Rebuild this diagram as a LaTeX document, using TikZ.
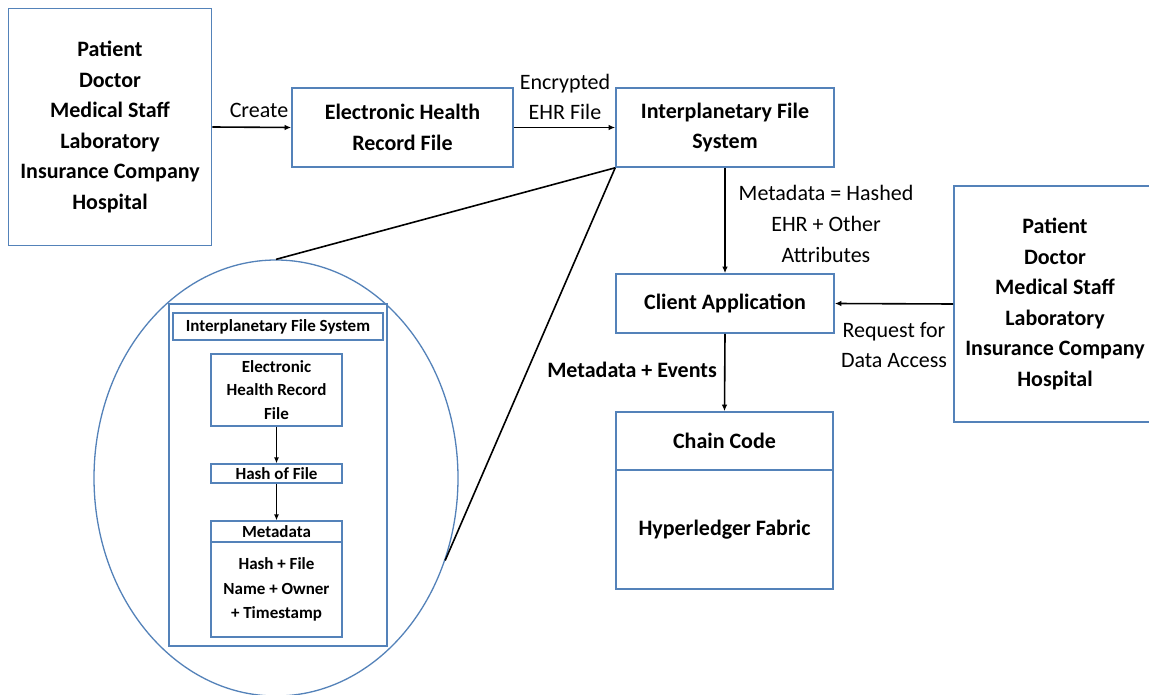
\documentclass[tikz,border=0pt]{standalone}
\usepackage{fontspec}
\setmainfont{Carlito}
\usetikzlibrary{arrows.meta,shapes.geometric}
\definecolor{boxblue}{RGB}{84,130,185}
\begin{document}
\begin{tikzpicture}[x=1pt,y=-1pt,
  box/.style={draw=boxblue,line width=1.6pt,align=center,font=\bfseries\fontsize{22}{30.5}\selectfont,inner sep=0pt},
  ibox/.style={draw=boxblue,line width=1.2pt,align=center,font=\bfseries\fontsize{17}{23.5}\selectfont,inner sep=0pt},
  lab/.style={align=center,font=\fontsize{22}{31}\selectfont,inner sep=0pt},
  arr/.style={-{Latex[length=6.5pt,width=5.5pt]},line width=1.6pt},
  iarr/.style={-{Latex[length=6pt,width=5pt]},line width=1.6pt},
  link/.style={line width=1.6pt}]
\clip (0,0) rectangle (1149,695);
\fill[white] (0,0) rectangle (1149,695);

% main boxes
\node[box,minimum width=203pt,minimum height=237pt] (L) at (110,127) {Patient\\Doctor\\Medical Staff\\Laboratory\\Insurance Company\\Hospital};
\node[box,minimum width=221pt,minimum height=79pt] (EHR) at (402.5,127.5) {Electronic Health\\Record File};
\node[box,minimum width=218pt,minimum height=79pt] (IPFS) at (725,127.5) {Interplanetary File\\System};
\node[box,minimum width=218pt,minimum height=59pt] (Client) at (725,303.5) {Client Application};
\node[box,minimum width=202pt,minimum height=236pt] (R) at (1055,304) {Patient\\Doctor\\Medical Staff\\Laboratory\\Insurance Company\\Hospital};
\node[box,minimum width=217pt,minimum height=58pt] (Chain) at (724.5,441) {Chain Code};
\node[box,minimum width=217pt,minimum height=119pt] (Fabric) at (724.5,529.5) {Hyperledger Fabric};

% connectors
\draw[arr] (L.east) -- (EHR.west);
\node[lab] (create) at (259,110) {Create};
\draw[arr] (EHR.east) -- (IPFS.west);
\node[lab,font=\fontsize{22}{30}\selectfont] (enc) at (565,97) {Encrypted\\EHR File};
\draw[arr] (IPFS.south) -- (Client.north);
\node[lab] (meta) at (826,224) {Metadata = Hashed\\EHR + Other\\Attributes};
\draw[arr] (R.west) -- (Client.east);
\node[lab,font=\fontsize{22}{30}\selectfont] (req) at (894,345) {Request for\\Data Access};
\draw[arr] (Client.south) -- (Chain.north);
\node[lab,font=\bfseries\fontsize{22}{30}\selectfont] (mev) at (632,370) {Metadata + Events};

% zoom ellipse
\node[draw=boxblue,line width=1.3pt,ellipse,minimum width=364pt,minimum height=436pt,inner sep=0pt] (E) at (276,478) {};
\draw[link] (IPFS.south west) -- (E.north);
\draw[link] (IPFS.south west) -- (E.-26.4);

% inner content
\node[draw=boxblue,line width=1.2pt,minimum width=218pt,minimum height=342pt,inner sep=0pt] (inner) at (278,475) {};
\node[ibox,minimum width=210pt,minimum height=27pt] (iIPFS) at (278,326.5) {Interplanetary File System};
\node[ibox,minimum width=131pt,minimum height=72pt] (iEHR) at (276.5,390) {Electronic\\Health Record\\File};
\node[ibox,minimum width=131pt,minimum height=19pt] (iHash) at (276.5,473.5) {Hash of File};
\node[ibox,minimum width=131pt,minimum height=21pt] (iMetaH) at (276.5,531.5) {Metadata};
\node[ibox,minimum width=131pt,minimum height=95pt,font=\bfseries\fontsize{17}{24.5}\selectfont] (iMetaB) at (276.5,589.5) {Hash + File\\Name + Owner\\+ Timestamp};
\draw[iarr] (iEHR.south) -- (iHash.north);
\draw[iarr] (iHash.south) -- (iMetaH.north);
\end{tikzpicture}
\end{document}
